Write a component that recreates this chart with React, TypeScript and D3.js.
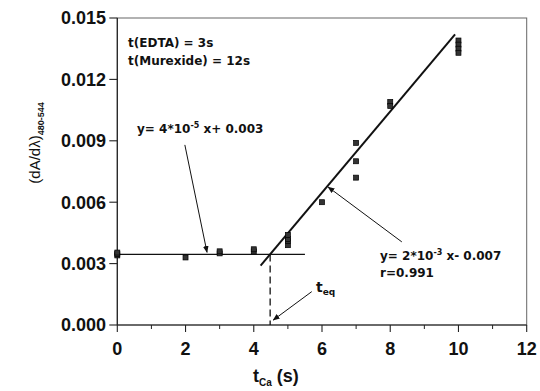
import React from "react";
import * as d3 from "d3";

// measured points: t_Ca (s) against (dA/dλ)480-544
const tCa = [0, 0, 0, 2, 3, 3, 4, 4, 5, 5, 5, 5, 6, 7, 7, 7, 8, 8, 10, 10, 10, 10];
const slope = [
	0.0034, 0.00347, 0.00354, 0.0033, 0.0035, 0.0036, 0.0036, 0.0037, 0.0039, 0.0041,
	0.0042, 0.0044, 0.006, 0.0089, 0.008, 0.0072, 0.0109, 0.0107, 0.0139, 0.0137, 0.0135,
	0.0133,
];

// fitted lines, as drawn: [x0, y0, x1, y1]
const flatFit = [0, 0.00345, 5.5, 0.00345];
const riseFit = [4.2, 0.0029, 9.9, 0.0142];
const tEq = 4.48;

const xTicks = [0, 2, 4, 6, 8, 10, 12];
const xMinorTicks = [1, 3, 5, 7, 9, 11];
const yTicks = [0, 0.003, 0.006, 0.009, 0.012, 0.015];
const yTickLabels = ["0.000", "0.003", "0.006", "0.009", "0.012", "0.015"];

// arrows: [fromX, fromY, toX, toY] in data units
const arrows = [
	[1.98, 0.0088, 2.63, 0.00355],
	[5.7, 0.00163, 4.57, 0.00024],
	[8.34, 0.00406, 6.18, 0.00674],
];

const W = 540;
const H = 391;
const tickFont = "'Liberation Sans', Arial, sans-serif";
const noteFont = "'DejaVu Sans', sans-serif";

export default function App() {
	const x = d3.scaleLinear().domain([0, 12]).range([117.3, 526.7]);
	const y = d3.scaleLinear().domain([0, 0.015]).range([325, 18]);

	const pts = tCa.map((t, i) => ({ t, v: slope[i] }));

	return (
		<svg
			width={W}
			height={H}
			style={{ position: "absolute", left: 0, top: 0, background: "#fff" }}
		>
			<defs>
				<marker
					id="head"
					viewBox="0 0 10 10"
					refX="9"
					refY="5"
					markerWidth="7"
					markerHeight="7"
					orient="auto"
					markerUnits="userSpaceOnUse"
				>
					<path d="M0,1 L10,5 L0,9 Z" fill="#111" />
				</marker>
			</defs>

			{/* frame */}
			<rect
				x={x(0)}
				y={y(0.015)}
				width={x(12) - x(0)}
				height={y(0) - y(0.015)}
				fill="none"
				stroke="#666"
				strokeWidth={1}
			/>
			<line x1={x(0)} x2={x(0)} y1={y(0)} y2={y(0.015)} stroke="#222" strokeWidth={1.2} />
			<line x1={x(0)} x2={x(12)} y1={y(0)} y2={y(0)} stroke="#222" strokeWidth={1.2} />

			{/* y ticks */}
			{yTicks.map((v, i) => (
				<g key={"y" + i}>
					<line x1={x(0) - 8} x2={x(0)} y1={y(v)} y2={y(v)} stroke="#222" strokeWidth={1.1} />
					<text
						x={106}
						y={y(v)}
						dy="0.36em"
						textAnchor="end"
						fontFamily={tickFont}
						fontWeight="bold"
						fontSize={18}
						fill="#111"
					>
						{yTickLabels[i]}
					</text>
				</g>
			))}

			{/* x ticks */}
			{xTicks.map((v) => (
				<g key={"x" + v}>
					<line x1={x(v)} x2={x(v)} y1={y(0)} y2={y(0) + 7} stroke="#222" strokeWidth={1.1} />
					<text
						x={x(v)}
						y={355}
						textAnchor="middle"
						fontFamily={tickFont}
						fontWeight="bold"
						fontSize={18}
						fill="#111"
					>
						{v}
					</text>
				</g>
			))}
			{xMinorTicks.map((v) => (
				<line key={"m" + v} x1={x(v)} x2={x(v)} y1={y(0)} y2={y(0) + 4} stroke="#222" />
			))}

			{/* axis titles */}
			<text
				transform={`translate(40,143) rotate(-90)`}
				textAnchor="middle"
				fontFamily={tickFont}
				fontSize={15}
				fill="#111"
			>
				(dA/dλ)
				<tspan fontSize={9} dy={4} fontWeight="bold">
					480-544
				</tspan>
			</text>
			<text x={253} y={382} fontFamily={tickFont} fontWeight="bold" fontSize={18} fill="#111">
				t
				<tspan fontSize={10} dy={4}>
					Ca
				</tspan>
				<tspan dy={-4}> (s)</tspan>
			</text>

			{/* fit lines */}
			<line
				x1={x(flatFit[0])}
				y1={y(flatFit[1])}
				x2={x(flatFit[2])}
				y2={y(flatFit[3])}
				stroke="#111"
				strokeWidth={1.2}
			/>
			<line
				x1={x(riseFit[0])}
				y1={y(riseFit[1])}
				x2={x(riseFit[2])}
				y2={y(riseFit[3])}
				stroke="#111"
				strokeWidth={2}
			/>
			<line
				x1={x(tEq)}
				x2={x(tEq)}
				y1={y(flatFit[1])}
				y2={y(0)}
				stroke="#111"
				strokeWidth={1.3}
				strokeDasharray="7,4"
			/>

			{/* points */}
			{pts.map((p, i) => (
				<rect
					key={"p" + i}
					x={x(p.t) - 2.5}
					y={y(p.v) - 2.5}
					width={5}
					height={5}
					fill="#333"
					stroke="#000"
					strokeWidth={0.7}
				/>
			))}

			{/* arrows */}
			{arrows.map((a, i) => (
				<line
					key={"a" + i}
					x1={x(a[0])}
					y1={y(a[1])}
					x2={x(a[2])}
					y2={y(a[3])}
					stroke="#111"
					strokeWidth={1}
					markerEnd="url(#head)"
				/>
			))}

			{/* notes */}
			<g fontFamily={noteFont} fontWeight="bold" fontSize={12} fill="#111">
				<text x={128} y={47}>t(EDTA) = 3s</text>
				<text x={128} y={65}>t(Murexide) = 12s</text>
				<text x={137} y={133}>
					y= 4*10
					<tspan fontSize={8} dy={-5}>
						-5
					</tspan>
					<tspan dy={5}> x+ 0.003</tspan>
				</text>
				<text x={380} y={260}>
					y= 2*10
					<tspan fontSize={8} dy={-5}>
						-3
					</tspan>
					<tspan dy={5}> x- 0.007</tspan>
				</text>
				<text x={380} y={277}>r=0.991</text>
				<text x={316} y={292} fontSize={14}>
					t
					<tspan fontSize={9} dy={3}>
						eq
					</tspan>
				</text>
			</g>
		</svg>
	);
}
